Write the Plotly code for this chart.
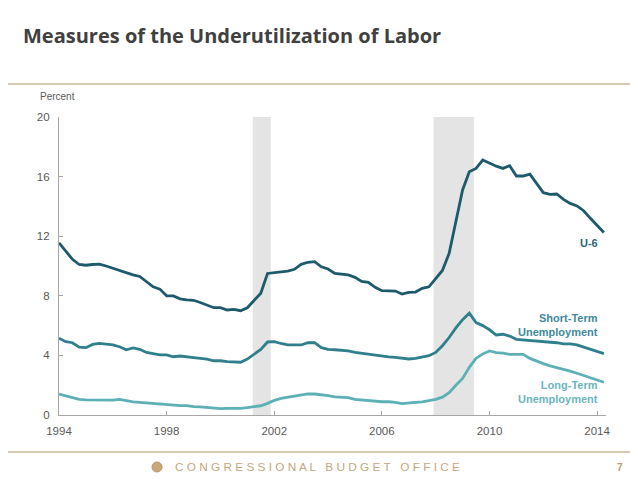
import plotly.graph_objects as go

# ---- data (quarterly, 1994Q1 .. 2014Q2) ----
years = list(range(1994, 2015))
quarters_per_year = 4

u6 = [11.56, 11.0, 10.45, 10.1,
      10.05, 10.1, 10.13, 10.0,
      9.85, 9.65, 9.5, 9.4,
      9.3, 8.95, 8.6, 8.45,
      8.0, 7.99, 7.8, 7.72,
      7.7, 7.55, 7.4, 7.2,
      7.2, 7.05, 7.09, 7.0,
      7.2, 7.72, 8.17, 9.5,
      9.55, 9.6, 9.66, 9.78,
      10.11, 10.25, 10.29, 9.95,
      9.8, 9.5, 9.46, 9.4,
      9.24, 8.97, 8.9, 8.57,
      8.34, 8.32, 8.32, 8.12,
      8.23, 8.25, 8.5, 8.6,
      9.17, 9.7, 10.85, 12.87,
      15.1, 16.33, 16.55, 17.11,
      16.89, 16.7, 16.55, 16.73,
      16.04, 16.04, 16.17, 15.55,
      14.92, 14.81, 14.83, 14.47,
      14.2, 14.03, 13.71, 13.2,
      12.7, 12.25]

short_term = [5.15, 4.92, 4.85, 4.55,
              4.52, 4.74, 4.81, 4.76,
              4.7, 4.58, 4.38, 4.5,
              4.41, 4.2, 4.1, 4.03,
              4.03, 3.91, 3.96, 3.88,
              3.85, 3.8, 3.75, 3.64,
              3.64, 3.58, 3.56, 3.54,
              3.75, 4.1, 4.4, 4.9,
              4.92, 4.8, 4.7, 4.7,
              4.7, 4.85, 4.85, 4.52,
              4.41, 4.38, 4.36, 4.3,
              4.2, 4.14, 4.09, 3.98,
              3.96, 3.9, 3.87, 3.8,
              3.76, 3.8, 3.87, 3.98,
              4.2, 4.65, 5.2, 5.85,
              6.4, 6.83, 6.2, 6.0,
              5.72, 5.37, 5.42, 5.3,
              5.08, 5.05, 5.0, 4.95,
              4.92, 4.88, 4.85, 4.77,
              4.77, 4.7, 4.55, 4.4,
              4.25, 4.12]

long_term = [1.41, 1.3, 1.2, 1.05,
             1.01, 1.01, 1.0, 0.96,
             1.0, 1.05, 0.94, 0.88,
             0.85, 0.81, 0.76, 0.72,
             0.68, 0.63, 0.63, 0.63,
             0.56, 0.54, 0.5, 0.47,
             0.43, 0.45, 0.43, 0.45,
             0.5, 0.55, 0.62, 0.78,
             0.98, 1.12, 1.2, 1.28,
             1.35, 1.41, 1.41, 1.38,
             1.3, 1.22, 1.18, 1.16,
             1.05, 1.0, 0.95, 0.92,
             0.89, 0.89, 0.85, 0.76,
             0.82, 0.85, 0.88, 0.95,
             1.05, 1.2, 1.5, 2.0,
             2.45, 3.2, 3.8, 4.1,
             4.3, 4.18, 4.16, 4.07,
             4.07, 4.07, 3.8, 3.6,
             3.45, 3.3, 3.2, 3.05,
             2.95, 2.8, 2.65, 2.5,
             2.35, 2.2]

recessions = [(2001.2, 2001.87), (2007.92, 2009.42)]
x_ticks = [1994, 1998, 2002, 2006, 2010, 2014]
y_ticks = [0, 4, 8, 12, 16, 20]

# decimal-year positions for each quarter
t = [y + q / quarters_per_year for y in years for q in range(quarters_per_year)][:len(u6)]

C_U6 = "#1d5a6b"
C_ST = "#2f7f8c"
C_LT = "#5cb0b6"
AX = "#a6a6a6"
TXT = "#595959"
TAN = "#c9b795"

# plot area geometry (px): width 547, height 298
PW, PH = 547.0, 298.0
X0, Y0 = 59.0, 415.0   # reference pixel of plot-area left / bottom


def px(x):
    return (x - X0) / PW


def py(y):
    return (Y0 - y) / PH


fig = go.Figure()
for a, b in recessions:
    fig.add_shape(type="rect", xref="x", yref="y", x0=a, x1=b, y0=0, y1=20,
                  fillcolor="#e4e4e4", line_width=0, layer="below")

fig.add_trace(go.Scatter(x=t, y=long_term, mode="lines", line=dict(color=C_LT, width=2.8), showlegend=False))
fig.add_trace(go.Scatter(x=t, y=short_term, mode="lines", line=dict(color=C_ST, width=2.8), showlegend=False))
fig.add_trace(go.Scatter(x=t, y=u6, mode="lines", line=dict(color=C_U6, width=2.8), showlegend=False))

font_ax = "Liberation Sans, Arial, sans-serif"

# page body has an 8px margin, so the figure is 8px smaller and everything offset by 8
fig.update_layout(
    width=630, height=471,
    margin=dict(l=51, r=32, t=109, b=64),
    paper_bgcolor="white", plot_bgcolor="white",
    font=dict(family=font_ax, size=11, color=TXT),
    xaxis=dict(range=[1994, 2014.33], tickvals=x_ticks, ticks="inside", ticklen=4,
               tickcolor=AX, showline=True, linecolor=AX, linewidth=1.2,
               showgrid=False, zeroline=False, tickfont=dict(size=11.5, color=TXT),
               ticklabelstandoff=5),
    yaxis=dict(range=[0, 20], tickvals=y_ticks, ticks="inside", ticklen=4,
               tickcolor=AX, showline=True, linecolor=AX, linewidth=1.2,
               showgrid=False, zeroline=False, tickfont=dict(size=11.5, color=TXT),
               ticklabelstandoff=6),
)

# Title and decorations
fig.add_annotation(text="<b>Measures of the Underutilization of Labor</b>", xref="paper", yref="paper",
                   x=px(21), y=py(36), xanchor="left", yanchor="middle", showarrow=False,
                   font=dict(family="Open Sans, sans-serif", size=20, color="#404040"))
fig.add_shape(type="line", xref="paper", yref="paper", x0=px(0), x1=px(638),
              y0=py(84), y1=py(84), line=dict(color=TAN, width=1.3))
fig.add_shape(type="line", xref="paper", yref="paper", x0=px(0), x1=px(638),
              y0=py(452), y1=py(452), line=dict(color=TAN, width=1.3))
fig.add_annotation(text="Percent", xref="paper", yref="paper", x=px(38), y=py(96),
                   xanchor="left", yanchor="middle", showarrow=False, font=dict(size=10, color=TXT))

# series labels
fig.add_annotation(text="<b>U-6</b>", xref="paper", yref="paper", x=px(600), y=py(243),
                   xanchor="right", yanchor="middle", showarrow=False, font=dict(size=11, color="#2a6878"))
fig.add_annotation(text="<b>Short-Term<br>Unemployment</b>", xref="paper", yref="paper",
                   x=px(600), y=py(325), xanchor="right", yanchor="middle", align="right",
                   showarrow=False, font=dict(size=11, color="#41899a"))
fig.add_annotation(text="<b>Long-Term<br>Unemployment</b>", xref="paper", yref="paper",
                   x=px(600), y=py(392), xanchor="right", yanchor="middle", align="right",
                   showarrow=False, font=dict(size=11, color="#6db5bc"))

# footer
fig.add_annotation(text="C O N G R E S S I O N A L &nbsp; B U D G E T &nbsp; O F F I C E",
                   xref="paper", yref="paper", x=px(173), y=py(467),
                   xanchor="left", yanchor="middle", showarrow=False,
                   font=dict(family=font_ax, size=11.8, color="#c4a77f"))
fig.add_shape(type="circle", xref="paper", yref="paper",
              x0=px(152), x1=px(162), y0=py(472), y1=py(462),
              fillcolor="#c9a878", line=dict(color="#b8956a", width=1))
fig.add_annotation(text="<b>7</b>", xref="paper", yref="paper", x=px(620), y=py(467),
                   xanchor="center", yanchor="middle", showarrow=False,
                   font=dict(family=font_ax, size=10, color="#b89a70"))

fig.write_html("out.html")
